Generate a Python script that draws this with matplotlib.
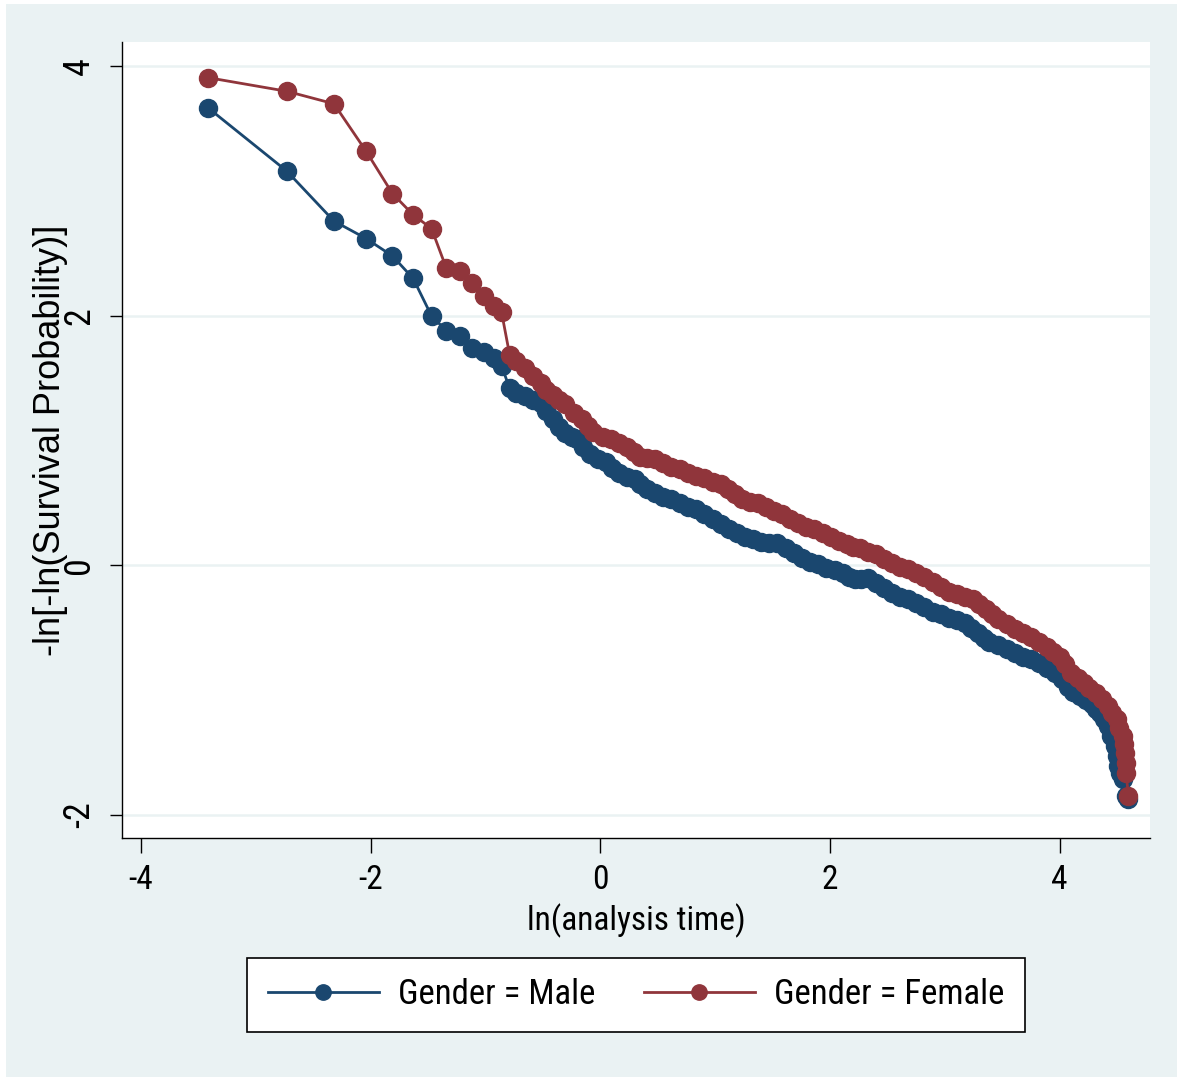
import matplotlib
matplotlib.use("Agg")
import matplotlib.pyplot as plt
from matplotlib.patches import Rectangle

# ln(analysis time) and -ln[-ln(S)]
male_x = [-3.42, -2.73, -2.32, -2.04, -1.81, -1.63, -1.47, -1.34, -1.22, -1.12,
          -1.01, -0.93, -0.86, -0.79, -0.73, -0.66, -0.59, -0.52, -0.47, -0.41,
          -0.36, -0.31, -0.25, -0.20, -0.15, -0.09, -0.02, 0.05, 0.10, 0.16,
          0.23, 0.30, 0.35, 0.41, 0.48, 0.55, 0.62, 0.69, 0.76, 0.83,
          0.90, 0.98, 1.05, 1.12, 1.19, 1.26, 1.33, 1.40, 1.47, 1.54,
          1.62, 1.69, 1.76, 1.83, 1.90, 1.97, 2.04, 2.11, 2.17, 2.22,
          2.27, 2.33, 2.40, 2.47, 2.54, 2.61, 2.68, 2.75, 2.82, 2.90,
          2.97, 3.04, 3.11, 3.18, 3.23, 3.29, 3.34, 3.39, 3.46, 3.54,
          3.61, 3.68, 3.75, 3.82, 3.89, 3.96, 4.02, 4.07, 4.12, 4.18,
          4.23, 4.28, 4.32, 4.35, 4.39, 4.42, 4.45, 4.48, 4.50, 4.51,
          4.53, 4.55, 4.58, 4.60]
male_y = [3.67, 3.16, 2.76, 2.62, 2.48, 2.30, 2.00, 1.88, 1.84, 1.74,
          1.71, 1.66, 1.60, 1.42, 1.38, 1.36, 1.33, 1.30, 1.24, 1.17,
          1.11, 1.06, 1.03, 1.01, 0.95, 0.89, 0.85, 0.83, 0.78, 0.74,
          0.71, 0.69, 0.65, 0.61, 0.58, 0.55, 0.53, 0.50, 0.47, 0.45,
          0.41, 0.37, 0.33, 0.29, 0.26, 0.23, 0.21, 0.19, 0.18, 0.18,
          0.14, 0.10, 0.06, 0.03, 0.01, -0.02, -0.04, -0.06, -0.09, -0.11,
          -0.11, -0.10, -0.14, -0.18, -0.22, -0.25, -0.27, -0.30, -0.33, -0.37,
          -0.39, -0.42, -0.44, -0.46, -0.50, -0.54, -0.58, -0.61, -0.64, -0.67,
          -0.70, -0.73, -0.75, -0.78, -0.82, -0.86, -0.91, -0.97, -1.01, -1.05,
          -1.08, -1.11, -1.15, -1.18, -1.23, -1.29, -1.37, -1.45, -1.53, -1.61,
          -1.66, -1.71, -1.85, -1.87]

female_x = [-3.42, -2.73, -2.32, -2.04, -1.81, -1.63, -1.47, -1.34, -1.22, -1.12,
            -1.01, -0.93, -0.86, -0.79, -0.73, -0.66, -0.59, -0.52, -0.47, -0.41,
            -0.36, -0.31, -0.23, -0.16, -0.11, -0.06, 0.02, 0.09, 0.16, 0.23,
            0.29, 0.35, 0.41, 0.48, 0.55, 0.62, 0.69, 0.76, 0.83, 0.90,
            0.98, 1.05, 1.11, 1.17, 1.23, 1.30, 1.37, 1.44, 1.51, 1.58,
            1.65, 1.72, 1.79, 1.86, 1.94, 2.01, 2.08, 2.15, 2.20, 2.26,
            2.33, 2.40, 2.47, 2.54, 2.61, 2.68, 2.75, 2.82, 2.90, 2.97,
            3.04, 3.11, 3.18, 3.25, 3.30, 3.36, 3.41, 3.46, 3.54, 3.61,
            3.68, 3.75, 3.82, 3.89, 3.94, 4.00, 4.05, 4.10, 4.16, 4.21,
            4.26, 4.32, 4.37, 4.42, 4.46, 4.50, 4.52, 4.55, 4.56, 4.57,
            4.58, 4.58, 4.60]
female_y = [3.91, 3.80, 3.70, 3.32, 2.98, 2.81, 2.70, 2.38, 2.36, 2.26,
            2.16, 2.08, 2.03, 1.69, 1.64, 1.58, 1.52, 1.46, 1.41, 1.37,
            1.33, 1.29, 1.22, 1.17, 1.12, 1.07, 1.03, 1.01, 0.98, 0.95,
            0.91, 0.87, 0.86, 0.85, 0.82, 0.79, 0.77, 0.74, 0.72, 0.70,
            0.67, 0.65, 0.61, 0.57, 0.53, 0.51, 0.50, 0.47, 0.44, 0.41,
            0.37, 0.34, 0.31, 0.29, 0.26, 0.23, 0.20, 0.17, 0.15, 0.14,
            0.11, 0.09, 0.05, 0.02, -0.01, -0.03, -0.06, -0.09, -0.13, -0.17,
            -0.21, -0.23, -0.25, -0.27, -0.31, -0.35, -0.39, -0.43, -0.47, -0.51,
            -0.54, -0.57, -0.61, -0.65, -0.69, -0.73, -0.79, -0.86, -0.90, -0.94,
            -0.98, -1.02, -1.07, -1.13, -1.18, -1.23, -1.30, -1.37, -1.43, -1.50,
            -1.58, -1.66, -1.85]

labels = ["Gender = Male", "Gender = Female"]
xticks = [-4, -2, 0, 2, 4]
yticks = [-2, 0, 2, 4]

navy = "#1a476f"
maroon = "#90353b"
bg = "#eaf2f3"
narrow = ["Liberation Sans Narrow", "DejaVu Sans Condensed", "Roboto Condensed",
          "Liberation Sans", "DejaVu Sans"]
plt.rcParams["font.family"] = narrow

fig = plt.figure(figsize=(11.83, 10.78), dpi=100, facecolor="white")
fig.patches.append(Rectangle((6 / 1183, 1 / 1078), 1171 / 1183, 1073 / 1078,
                             transform=fig.transFigure, facecolor=bg,
                             edgecolor="none", zorder=-5))
ax = fig.add_axes([122 / 1183, 240 / 1078, 1028 / 1183, 796 / 1078])
ax.set_facecolor("white")

for y in yticks:
    ax.axhline(y, color=bg, lw=1.8, zorder=1)

ax.plot(male_x, male_y, color=navy, lw=2, marker="o", ms=13,
        mec=navy, mfc=navy, label=labels[0], zorder=3)
ax.plot(female_x, female_y, color=maroon, lw=2, marker="o", ms=13,
        mec=maroon, mfc=maroon, label=labels[1], zorder=4)

ax.set_xlim(-4.166, 4.788)
ax.set_ylim(-2.184, 4.195)
ax.set_xticks(xticks)
ax.set_yticks(yticks)
ax.set_xticklabels([str(v) for v in xticks], fontsize=24)
ax.set_yticklabels([str(v) for v in yticks], fontsize=26, rotation=90, va="center")
ax.tick_params(axis="x", length=11, width=1, pad=8)
ax.tick_params(axis="y", length=9, width=1, pad=9)
for s in ["top", "right"]:
    ax.spines[s].set_visible(False)
for s in ["left", "bottom"]:
    ax.spines[s].set_linewidth(1)

ax.set_xlabel("ln(analysis time)", fontsize=24, labelpad=5)
ax.set_ylabel("-ln[-ln(Survival Probability)]", fontsize=26,
              family=["Liberation Sans", "DejaVu Sans"], va="center")
ax.yaxis.set_label_coords(-0.070, 0.5)

leg = fig.legend(loc="center", bbox_to_anchor=(636 / 1183, 1 - 995 / 1078),
                 ncol=2, fontsize=25, frameon=True, fancybox=False,
                 handlelength=3.2, handletextpad=0.55, columnspacing=1.4,
                 borderpad=0.6, markerscale=0.85, framealpha=1)
leg.get_frame().set_edgecolor("black")
leg.get_frame().set_facecolor("white")
leg.get_frame().set_linewidth(1.2)

fig.savefig("out.png", dpi=100, facecolor="white")
